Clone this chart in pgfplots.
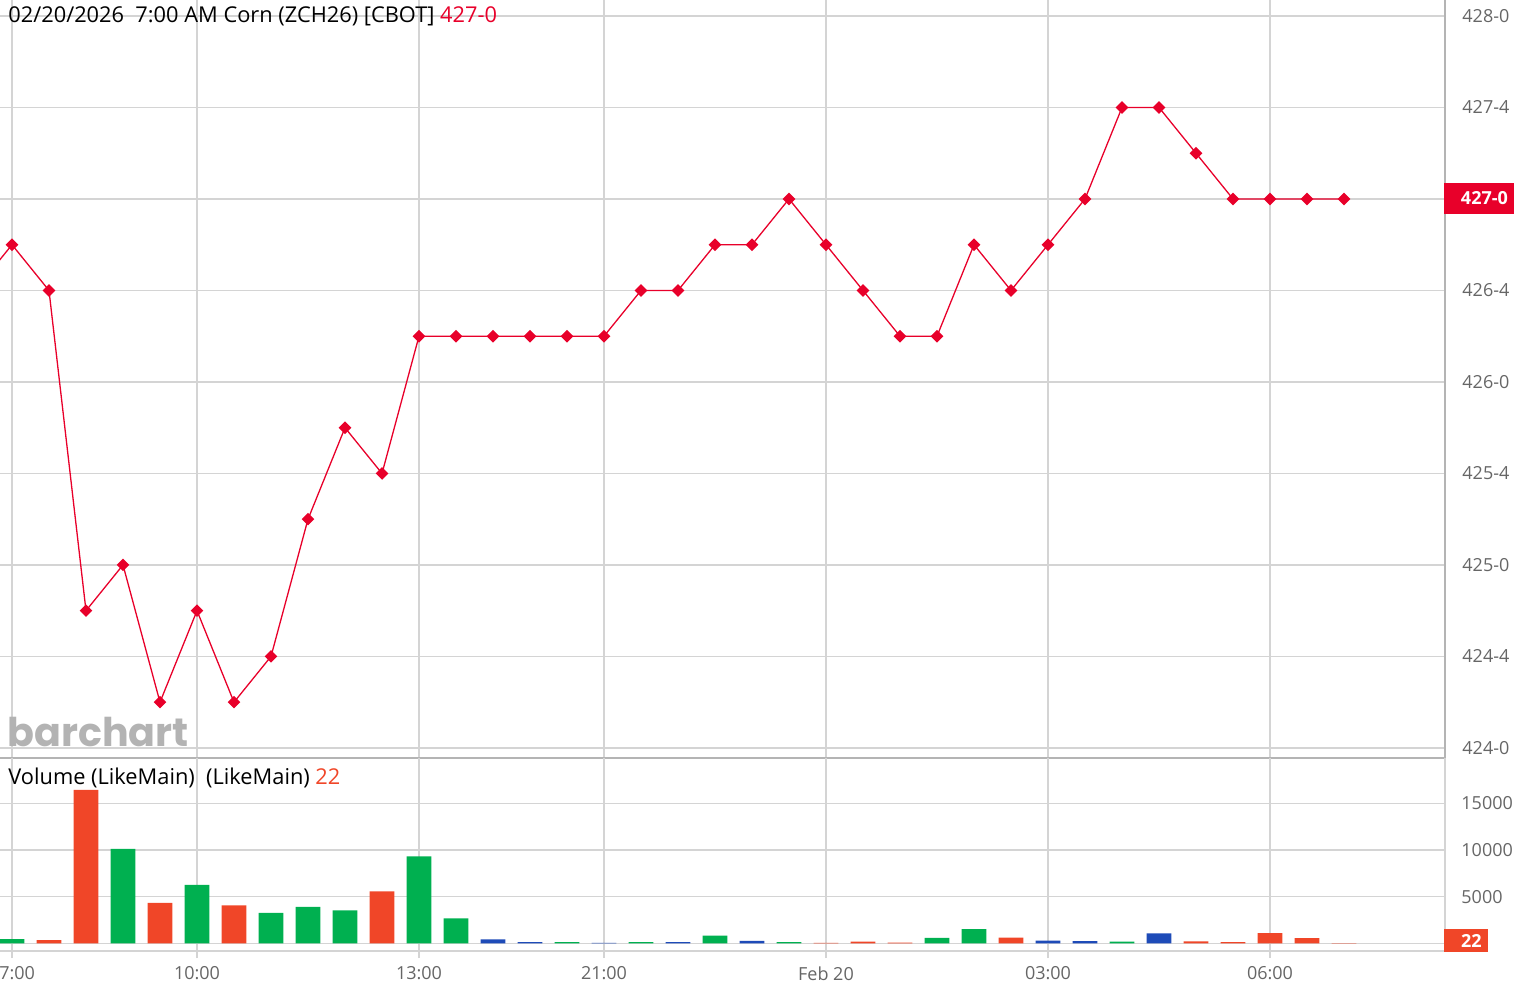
\documentclass[border=0pt]{standalone}
\usepackage{fontspec}
\setmainfont{Open Sans}
\newfontfamily\logofont{Poppins}
\usepackage{pgfplots}
\usepackage{pgfplotstable}
\pgfplotsset{compat=1.18}

\definecolor{pricered}{HTML}{E8002A}
\definecolor{volred}{HTML}{F04628}
\definecolor{volgreen}{HTML}{00B050}
\definecolor{volblue}{HTML}{1E4BB8}
\definecolor{gridgray}{HTML}{D4D4D4}
\definecolor{sepgray}{HTML}{B4B4B4}
\definecolor{tickgray}{HTML}{666666}
\definecolor{logogray}{HTML}{B3B3B3}

% price, one point per 37px step (index -1 is cut by the left edge)
\pgfplotstableread{
idx price
-1 426.5
0 426.75
1 426.5
2 424.75
3 425.0
4 424.25
5 424.75
6 424.25
7 424.5
8 425.25
9 425.75
10 425.5
11 426.25
12 426.25
13 426.25
14 426.25
15 426.25
16 426.25
17 426.5
18 426.5
19 426.75
20 426.75
21 427.0
22 426.75
23 426.5
24 426.25
25 426.25
26 426.75
27 426.5
28 426.75
29 427.0
30 427.5
31 427.5
32 427.25
33 427.0
34 427.0
35 427.0
36 427.0
}\pricedata

\pgfplotstableread{
idx vol
1 350
2 16430
4 4320
6 4070
10 5570
22 50
23 180
24 80
27 600
32 200
33 120
34 1100
35 560
36 22
}\volred

\pgfplotstableread{
idx vol
0 460
3 10110
5 6250
7 3250
8 3890
9 3530
11 9320
12 2680
15 140
17 140
19 820
21 140
25 570
26 1530
30 170
}\volgreen

\pgfplotstableread{
idx vol
13 430
14 140
16 50
18 140
20 250
28 300
29 230
31 1070
}\volblue

\pgfplotsset{
  panel/.style={
    scale only axis,
    width=722.5pt,
    xmin=-0.3243, xmax=38.73,
    xtick={0,5,11,16,22,28,34},
    grid=major,
    major grid style={draw=gridgray, line width=0.8pt},
    axis x line*=bottom,
    axis y line*=right,
    x axis line style={-},
    y axis line style={-},
    yticklabel pos=right,
    xticklabel pos=lower,
    ytick style={draw=none},
    yticklabel style={anchor=west, inner sep=0pt,
      font=\fontsize{9}{10}\selectfont, text=tickgray},
    scaled y ticks=false,
  },
}

\begin{document}
\begin{tikzpicture}
% price panel
\begin{axis}[panel,
  at={(0pt,117pt)}, anchor=south west,
  height=379pt,
  ymin=423.945, ymax=428.0874,
  ytick={424,424.5,425,425.5,426,426.5,427,427.5,428},
  yticklabels={424-0,424-4,425-0,425-4,426-0,426-4,427-0,427-4,428-0},
  yticklabel style={xshift=8.5pt},
  xticklabels={,,,,,,,},
  xtick style={draw=none},
  axis line style={draw=sepgray, line width=0.8pt},
  x axis line style={-, draw=sepgray, line width=1.1pt},
]
\addplot[pricered, line width=0.65pt, mark=square*,
  mark size=1.9pt, mark options={rotate=45, solid, fill=pricered}]
  table[x=idx, y=price] {\pricedata};
\end{axis}

% volume panel
\begin{axis}[panel,
  at={(0pt,20.5pt)}, anchor=south west,
  height=96.5pt,
  ymin=-825, ymax=19853,
  ytick={0,5000,10000,15000},
  yticklabels={,5000,10000,15000},
  yticklabel style={xshift=4.5pt},
  xticklabels={07:00,10:00,13:00,21:00,Feb 20,03:00,06:00},
  xticklabel style={anchor=north, inner sep=0pt, yshift=-4pt,
    font=\fontsize{9}{10}\selectfont, text=tickgray},
  xtick style={draw=gridgray, line width=0.8pt},
  tick align=outside,
  major tick length=3.5pt,
  axis line style={draw=gridgray, line width=0.8pt},
  ybar, bar width=12.35pt,
]
\addplot[draw=none, fill=volred, bar shift=0pt] table[x=idx, y=vol] {\volred};
\addplot[draw=none, fill=volgreen, bar shift=0pt] table[x=idx, y=vol] {\volgreen};
\addplot[draw=none, fill=volblue, bar shift=0pt] table[x=idx, y=vol] {\volblue};
\end{axis}

% texts and tags
\node[anchor=west, inner sep=0pt, font=\fontsize{10.9}{12}\selectfont]
  at (4pt,488pt) {02/20/2026\ \ 7:00 AM Corn (ZCH26) [CBOT] \textcolor{pricered}{427-0}};
\node[anchor=west, inner sep=0pt, font=\fontsize{10.9}{12}\selectfont]
  at (4pt,107pt) {Volume (LikeMain)\ \ (LikeMain) \textcolor{volred}{22}};
\node[anchor=base west, inner sep=0pt, text=logogray,
  font=\logofont\bfseries\fontsize{19.8}{20}\selectfont] at (3.5pt,123pt) {barchart};
\node[anchor=west, fill=pricered, text=white, inner sep=0pt,
  minimum width=35pt, minimum height=15.5pt,
  font=\bfseries\fontsize{9}{10}\selectfont] at (722pt,396.75pt) {\hspace*{5pt}427-0};
\node[anchor=west, fill=volred, text=white, inner sep=0pt,
  minimum width=22pt, minimum height=11.5pt,
  font=\bfseries\fontsize{9}{10}\selectfont] at (722pt,25.75pt) {\hspace*{5pt}22};
\pgfresetboundingbox
\useasboundingbox (0,0) rectangle (760pt,496pt);
\end{tikzpicture}
\end{document}
